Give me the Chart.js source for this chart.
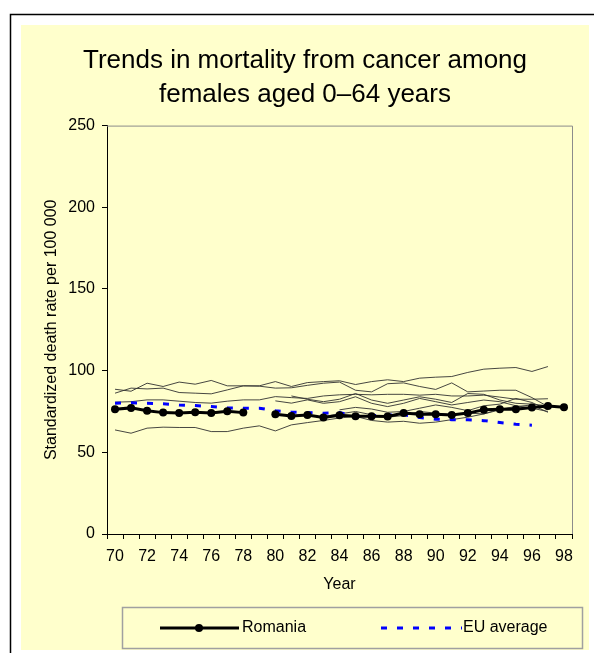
<!DOCTYPE html>
<html>
<head>
<meta charset="utf-8">
<script src="https://cdn.jsdelivr.net/npm/chart.js@4/dist/chart.umd.min.js"></script>
<style>
  html, body { margin: 0; padding: 0; background: #ffffff; }
  #wrap { position: relative; width: 594px; height: 653px; }
</style>
</head>
<body>
<div id="wrap"><canvas id="c" width="594" height="653"></canvas></div>
<script>
// ---- data ----
const years = ['70','71','72','73','74','75','76','77','78','79','80','81','82','83','84','85','86','87','88','89','90','91','92','93','94','95','96','97','98'];
const yTicks = [0, 50, 100, 150, 200, 250];

const romania = [76.4,77.2,75.4,74.3,74.1,74.6,74.1,75.2,74.3,null,73.3,72.3,72.9,71.3,72.7,72.1,72.1,71.9,74.0,73.3,73.3,72.9,74.0,76.0,76.4,76.4,77.4,78.4,77.6];
const euAverage = [80.1,80.3,80.1,79.7,79.0,78.6,78.0,77.2,77.0,77.0,75.4,74.6,74.3,73.9,74.3,72.0,72.5,72.8,73.0,71.3,70.3,70.0,69.9,69.4,68.2,67.2,66.6,null,null];

const country1 = [88.6,87.4,92.3,90.3,93.0,91.7,94.0,90.7,90.7,90.7,93.3,90.3,92.7,93.3,93.8,91.5,93.3,94.4,93.3,95.4,96.0,96.4,98.9,100.9,101.5,101.9,99.5,102.5,null];
const country2 = [86.2,89.3,88.8,89.3,86.6,86.2,85.8,88.2,90.7,90.5,89.3,89.5,91.0,92.3,93.0,88.0,87.0,92.0,92.5,90.3,88.5,92.5,87.0,87.5,88.0,88.0,83.5,78.0,null];
const country3 = [80.7,81.0,82.1,82.1,81.3,80.5,80.1,81.3,82.1,82.1,84.1,83.5,83.0,84.5,85.2,85.5,85.2,85.5,85.5,85.0,85.5,84.5,84.5,85.0,83.8,82.5,82.5,82.8,null];
const country4 = [63.7,61.7,64.8,65.4,65.2,65.2,62.7,62.7,64.8,66.2,63.1,66.8,68.2,69.5,71.0,72.0,69.5,68.5,69.0,67.8,68.5,70.0,71.5,73.5,76.0,78.0,77.0,null,null];
const country5 = [null,null,null,null,null,null,null,null,null,null,81.5,80.1,82.1,80.0,81.0,84.0,80.0,78.0,80.0,83.0,81.0,79.0,80.5,82.0,81.0,78.5,77.0,75.0,null];
const country6 = [null,null,null,null,null,null,null,null,null,null,null,84.5,82.5,81.0,82.5,86.0,82.0,80.0,82.0,84.0,82.5,80.5,86.0,85.5,82.0,80.0,79.5,78.5,null];
const country7 = [null,null,null,null,null,null,null,null,null,null,null,null,null,null,76.0,77.5,76.5,74.5,75.0,77.0,79.0,77.5,75.5,78.5,79.5,83.0,80.5,76.0,null];
const country8 = [null,null,null,null,null,null,null,null,null,null,null,null,null,72.0,73.5,75.0,73.0,71.5,72.5,75.0,74.0,73.0,74.0,73.5,76.5,78.0,79.0,74.5,null];

const FONT = "'Liberation Sans', Arial, sans-serif";
const YELLOW = '#FFFFCC';

const grayLine = (label, data) => ({
  label, data,
  borderColor: 'rgba(50,50,50,0.9)',
  borderWidth: 1,
  pointRadius: 0,
  pointHoverRadius: 0,
  spanGaps: false,
  tension: 0
});

const frame = {
  id: 'frame',
  beforeDraw(chart) {
    const ctx = chart.ctx;
    ctx.save();
    ctx.fillStyle = '#ffffff';
    ctx.fillRect(0, 0, chart.width, chart.height);
    ctx.fillStyle = YELLOW;
    ctx.fillRect(21, 25, 568, 625);
    ctx.strokeStyle = '#000000';
    ctx.lineWidth = 1.5;
    ctx.beginPath();
    ctx.moveTo(10.5, chart.height);
    ctx.lineTo(10.5, 14.5);
    ctx.lineTo(chart.width, 14.5);
    ctx.stroke();
    ctx.restore();
  },
  beforeDatasetsDraw(chart) {
    const ctx = chart.ctx, a = chart.chartArea;
    ctx.save();
    ctx.strokeStyle = '#8c8c8c';
    ctx.lineWidth = 1;
    ctx.beginPath();
    ctx.moveTo(a.left, a.top + 0.5);
    ctx.lineTo(a.right + 0.5, a.top + 0.5);
    ctx.lineTo(a.right + 0.5, a.bottom);
    ctx.stroke();
    ctx.restore();
  },
  afterDraw(chart) {
    const ctx = chart.ctx;
    ctx.save();
    // legend box
    ctx.fillStyle = YELLOW;
    ctx.fillRect(122, 607, 461, 42);
    ctx.strokeStyle = '#a0a0a0';
    ctx.lineWidth = 1.5;
    ctx.strokeRect(122.5, 607.5, 460, 41);
    const ly = 628;
    // Romania sample
    ctx.strokeStyle = '#000000';
    ctx.lineWidth = 3;
    ctx.beginPath();
    ctx.moveTo(160, ly); ctx.lineTo(239, ly);
    ctx.stroke();
    ctx.fillStyle = '#000000';
    ctx.beginPath();
    ctx.arc(199, ly, 4, 0, Math.PI * 2);
    ctx.fill();
    // EU sample
    ctx.strokeStyle = '#0000FF';
    ctx.setLineDash([6, 10]);
    ctx.beginPath();
    ctx.moveTo(381, ly); ctx.lineTo(462, ly);
    ctx.stroke();
    ctx.setLineDash([]);
    ctx.fillStyle = '#000000';
    ctx.font = '16px ' + FONT;
    ctx.textBaseline = 'middle';
    ctx.textAlign = 'left';
    ctx.fillText('Romania', 242, ly);
    ctx.fillText('EU average', 463, ly);
    ctx.restore();
  }
};

new Chart(document.getElementById('c'), {
  type: 'line',
  data: {
    labels: years,
    datasets: [
      {
        label: 'Romania', data: romania,
        borderColor: '#000000', backgroundColor: '#000000',
        borderWidth: 3, pointRadius: 4, pointBackgroundColor: '#000000',
        pointBorderColor: '#000000', pointBorderWidth: 0, spanGaps: false, tension: 0
      },
      {
        label: 'EU average', data: euAverage,
        borderColor: '#0000FF', borderWidth: 3, borderDash: [6, 10],
        pointRadius: 0, spanGaps: false, tension: 0
      },
      grayLine('Country 1', country1),
      grayLine('Country 2', country2),
      grayLine('Country 3', country3),
      grayLine('Country 4', country4),
      grayLine('Country 5', country5),
      grayLine('Country 6', country6),
      grayLine('Country 7', country7),
      grayLine('Country 8', country8)
    ]
  },
  options: {
    responsive: false,
    animation: false,
    devicePixelRatio: 1,
    layout: { padding: { left: 38, right: 22, top: 0, bottom: 59 } },
    plugins: {
      legend: { display: false },
      tooltip: { enabled: false },
      title: {
        display: true,
        text: ['Trends in mortality from cancer among', 'females aged 0\u201364 years'],
        color: '#000000',
        font: { family: FONT, size: 26, weight: 'normal', lineHeight: 1.3 },
        padding: { top: 44, bottom: 14 }
      }
    },
    scales: {
      x: {
        type: 'category',
        offset: true,
        afterFit(s) { s.height = 60; },
        border: { display: true, color: '#000000', width: 1 },
        grid: { offset: true, drawOnChartArea: false, drawTicks: true, tickLength: 5, color: '#000000' },
        ticks: {
          autoSkip: false, maxRotation: 0, minRotation: 0, padding: 8,
          color: '#000000', font: { family: FONT, size: 16 },
          callback(val, idx) { return idx % 2 === 0 ? this.getLabelForValue(val) : ''; }
        },
        title: { display: true, text: 'Year', color: '#000000', font: { family: FONT, size: 16 }, padding: { top: 0, bottom: 0 } }
      },
      y: {
        min: 0, max: 250,
        afterFit(s) { s.width = 69; },
        afterBuildTicks(s) { s.ticks = yTicks.map(v => ({ value: v })); },
        border: { display: true, color: '#000000', width: 1 },
        grid: { drawOnChartArea: false, drawTicks: true, tickLength: 5, color: '#000000' },
        ticks: { padding: 7, color: '#000000', font: { family: FONT, size: 16 } },
        title: { display: true, text: 'Standardized death rate per 100 000', color: '#000000', font: { family: FONT, size: 16 }, padding: { top: 4, bottom: 0 } }
      }
    }
  },
  plugins: [frame]
});
</script>
</body>
</html>
